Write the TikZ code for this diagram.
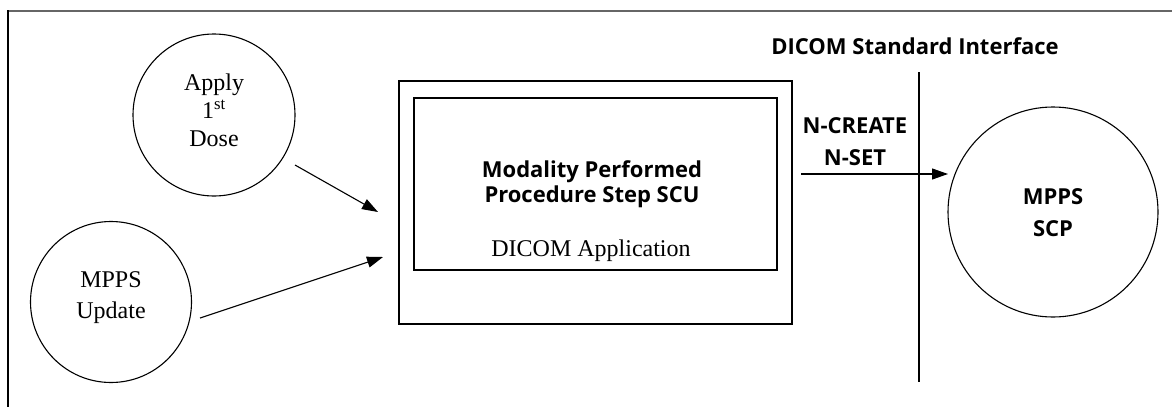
\documentclass[tikz,border=0pt]{standalone}
\usepackage{fontspec}
\setmainfont{Liberation Serif}
\newfontfamily\boldsans[BoldFont={Open Sans Bold}]{Open Sans}
\usetikzlibrary{arrows.meta}
\tikzset{
  bubble/.style={draw, circle, line width=1.1pt, inner sep=0pt},
  serifl/.style={font=\fontsize{24}{28}\selectfont, align=center},
  sansl/.style={font=\boldsans\bfseries\fontsize{22}{25}\selectfont, align=center},
  sanswide/.style={font=\boldsans\bfseries\fontsize{22}{32}\selectfont, align=center},
  flow/.style={line width=1.1pt, -{Triangle[length=16pt,width=11pt]}},
  boxline/.style={draw, line width=1.1pt}
}
\begin{document}
\begin{tikzpicture}[x=1pt,y=-1pt]
\useasboundingbox (0,0) rectangle (1172,407);
% frame
\draw[line width=2pt, gray!80!black] (7,10.5) -- (1172,10.5);
\draw[line width=2pt] (7.5,10) -- (7.5,407);
% circles
\node[bubble, minimum size=162pt] (apply) at (214,115) {};
\node[serifl] (applyt) at (214,110) {Apply\\1\textsuperscript{st}\\Dose};
\node[bubble, minimum size=161pt] (upd) at (111,302) {};
\node[serifl, font=\fontsize{24}{31}\selectfont] (updt) at (111,298) {MPPS\\Update};
\node[bubble, minimum size=210pt] (scp) at (1053,212) {};
\node[sanswide] (scpt) at (1053,213) {MPPS\\SCP};
% boxes
\draw[boxline] (399,81) rectangle (792,324);
\node[boxline, minimum width=363pt, minimum height=172pt, inner sep=0pt] (inner) at (595.5,184) {};
\node[sansl] (mpps) at (592,184) {Modality Performed\\Procedure Step SCU};
\node[serifl] (app) at (591,251) {DICOM Application};
% interface
\node[sansl] (iface) at (915,46) {DICOM Standard Interface};
\coordinate (itop) at (919,72);
\coordinate (ibot) at (919,382);
\draw[line width=1.1pt] (itop) -- (ibot);
\node[sanswide] (ncr) at (855,142) {N-CREATE\\N-SET};
% arrows
\coordinate (a1s) at (295,165);
\coordinate (a1e) at (378,212);
\coordinate (a2s) at (200,318);
\coordinate (a2e) at (383,257);
\coordinate (a3s) at (801,174);
\coordinate (a3e) at (948,174);
\draw[flow] (a1s) -- (a1e);
\draw[flow] (a2s) -- (a2e);
\draw[flow] (a3s) -- (a3e);
\end{tikzpicture}
\end{document}
